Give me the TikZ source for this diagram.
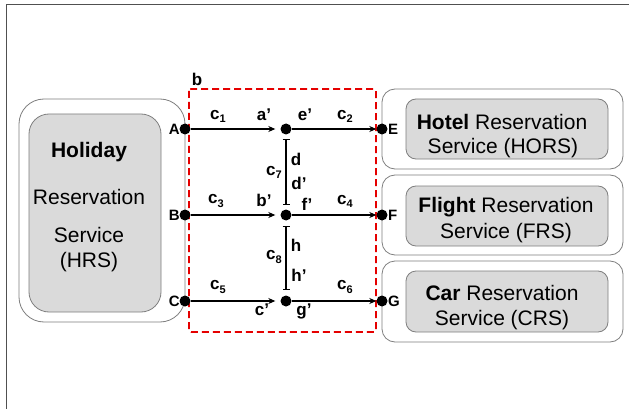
\documentclass[tikz,border=0pt]{standalone}
\usepackage{fontspec}
\setmainfont{Liberation Sans}
\usetikzlibrary{arrows.meta}
\definecolor{boxgray}{HTML}{7F7F7F}
\definecolor{innerfill}{HTML}{DADADA}
\definecolor{framegray}{HTML}{505050}
\newcommand{\sub}[1]{\raisebox{-0.35ex}{\fontsize{11}{11}\selectfont #1}}
\begin{document}
\begin{tikzpicture}[x=1pt,y=-1pt,
  outerbox/.style={draw=boxgray,line width=0.8pt,fill=white},
  innerbox/.style={draw=boxgray,line width=0.8pt,fill=innerfill},
  dot/.style={circle,fill=black,inner sep=0pt,minimum size=11pt},
  conn/.style={line width=1.3pt,-{Stealth[length=7pt,width=6pt]}},
  barline/.style={line width=1.3pt,{Bar[width=7pt,line width=1.3pt]}-{Bar[width=7pt,line width=1.3pt]}},
  port/.style={font=\fontsize{15}{15}\selectfont\bfseries,inner sep=0pt},
  lab/.style={font=\fontsize{17}{17}\selectfont\bfseries,inner sep=0pt},
  svc/.style={font=\fontsize{21}{21}\selectfont,inner sep=0pt,align=center}
]
\useasboundingbox (0,0) rectangle (629,409);
\fill[white] (0,0) rectangle (629,409);
% frame
\draw[framegray,line width=1pt] (6,409) -- (6,5) -- (629,5);

% HRS
\draw[outerbox,rounded corners=25pt] (19,99) rectangle (185,322);
\draw[innerbox,rounded corners=20pt] (29,114) rectangle (161,312);
\node[svc,font=\fontsize{21}{21}\selectfont\bfseries] (hol) at (89,152) {Holiday};
\node[svc] (res) at (89,197) {Reservation};
\node[svc] (ser) at (89,235) {Service};
\node[svc] (hrs) at (89,262) {(HRS)};

% right services
\draw[outerbox,rounded corners=13pt] (382,89) rectangle (623,169);
\draw[outerbox,rounded corners=13pt] (382,175) rectangle (623,255);
\draw[outerbox,rounded corners=13pt] (382,261) rectangle (623,342);
\draw[innerbox,rounded corners=10pt] (406,99) rectangle (608,159);
\draw[innerbox,rounded corners=10pt] (406,186) rectangle (608,246);
\draw[innerbox,rounded corners=10pt] (406,271) rectangle (608,332);
\node[svc] (hot1) at (502,122) {\textbf{Hotel} Reservation};
\node[svc] (hot2) at (503,148) {Service (HORS)};
\node[svc] (fl1) at (506,207) {\textbf{Flight} Reservation};
\node[svc] (fl2) at (506,233) {Service (FRS)};
\node[svc] (car1) at (502,293) {\textbf{Car} Reservation};
\node[svc] (car2) at (502,320) {Service (CRS)};

% red dashed box
\draw[red!90!black,line width=1.6pt,dash pattern=on 7pt off 4pt,rounded corners=2pt] (189,89) rectangle (376,332);
\node[lab] (b) at (197,79) {b};

% dots
\node[dot] (A) at (185,129) {};
\node[dot] (B) at (185,215) {};
\node[dot] (C) at (185,301) {};
\node[dot] (M1) at (286,129) {};
\node[dot] (M2) at (286,215) {};
\node[dot] (M3) at (286,301) {};
\node[dot] (E) at (382,129) {};
\node[dot] (F) at (382,215) {};
\node[dot] (G) at (382,301) {};

\node[port,anchor=east] (lA) at (180,129) {A};
\node[port,anchor=east] (lB) at (180,215) {B};
\node[port,anchor=east] (lC) at (180,301) {C};
\node[port,anchor=west] (lE) at (388,129) {E};
\node[port,anchor=west] (lF) at (388,215) {F};
\node[port,anchor=west] (lG) at (388,301) {G};

% connectors
\draw[conn,shorten >=5pt] (A) -- (M1);
\draw[conn,shorten >=5pt] (B) -- (M2);
\draw[conn,shorten >=5pt] (C) -- (M3);
\draw[conn] (M1) -- (E.west);
\draw[conn] (M2) -- (F.west);
\draw[conn] (M3) -- (G.west);
\coordinate (t1) at (286,139);
\coordinate (t2) at (286,205);
\coordinate (t3) at (286,226);
\coordinate (t4) at (286,290);
\draw[barline] (t1) -- (t2);
\draw[barline] (t3) -- (t4);

% labels
\node[lab] (c1) at (218,116) {c\sub{1}};
\node[lab] (ap) at (264,115) {a’};
\node[lab] (ep) at (305,115) {e’};
\node[lab] (c2) at (345,116) {c\sub{2}};
\node[lab] (c3) at (216,201) {c\sub{3}};
\node[lab] (bp) at (264,200) {b’};
\node[lab] (fp) at (307,204) {f’};
\node[lab] (c4) at (345,201) {c\sub{4}};
\node[lab] (c5) at (218,287) {c\sub{5}};
\node[lab] (cp) at (262,310) {c’};
\node[lab] (gp) at (304,311) {g’};
\node[lab] (c6) at (345,287) {c\sub{6}};
\node[lab] (c7) at (274,172) {c\sub{7}};
\node[lab] (d) at (296,159) {d};
\node[lab] (dp) at (299,183) {d’};
\node[lab] (c8) at (274,257) {c\sub{8}};
\node[lab] (h) at (296,245) {h};
\node[lab] (hp) at (299,275) {h’};
\end{tikzpicture}
\end{document}
